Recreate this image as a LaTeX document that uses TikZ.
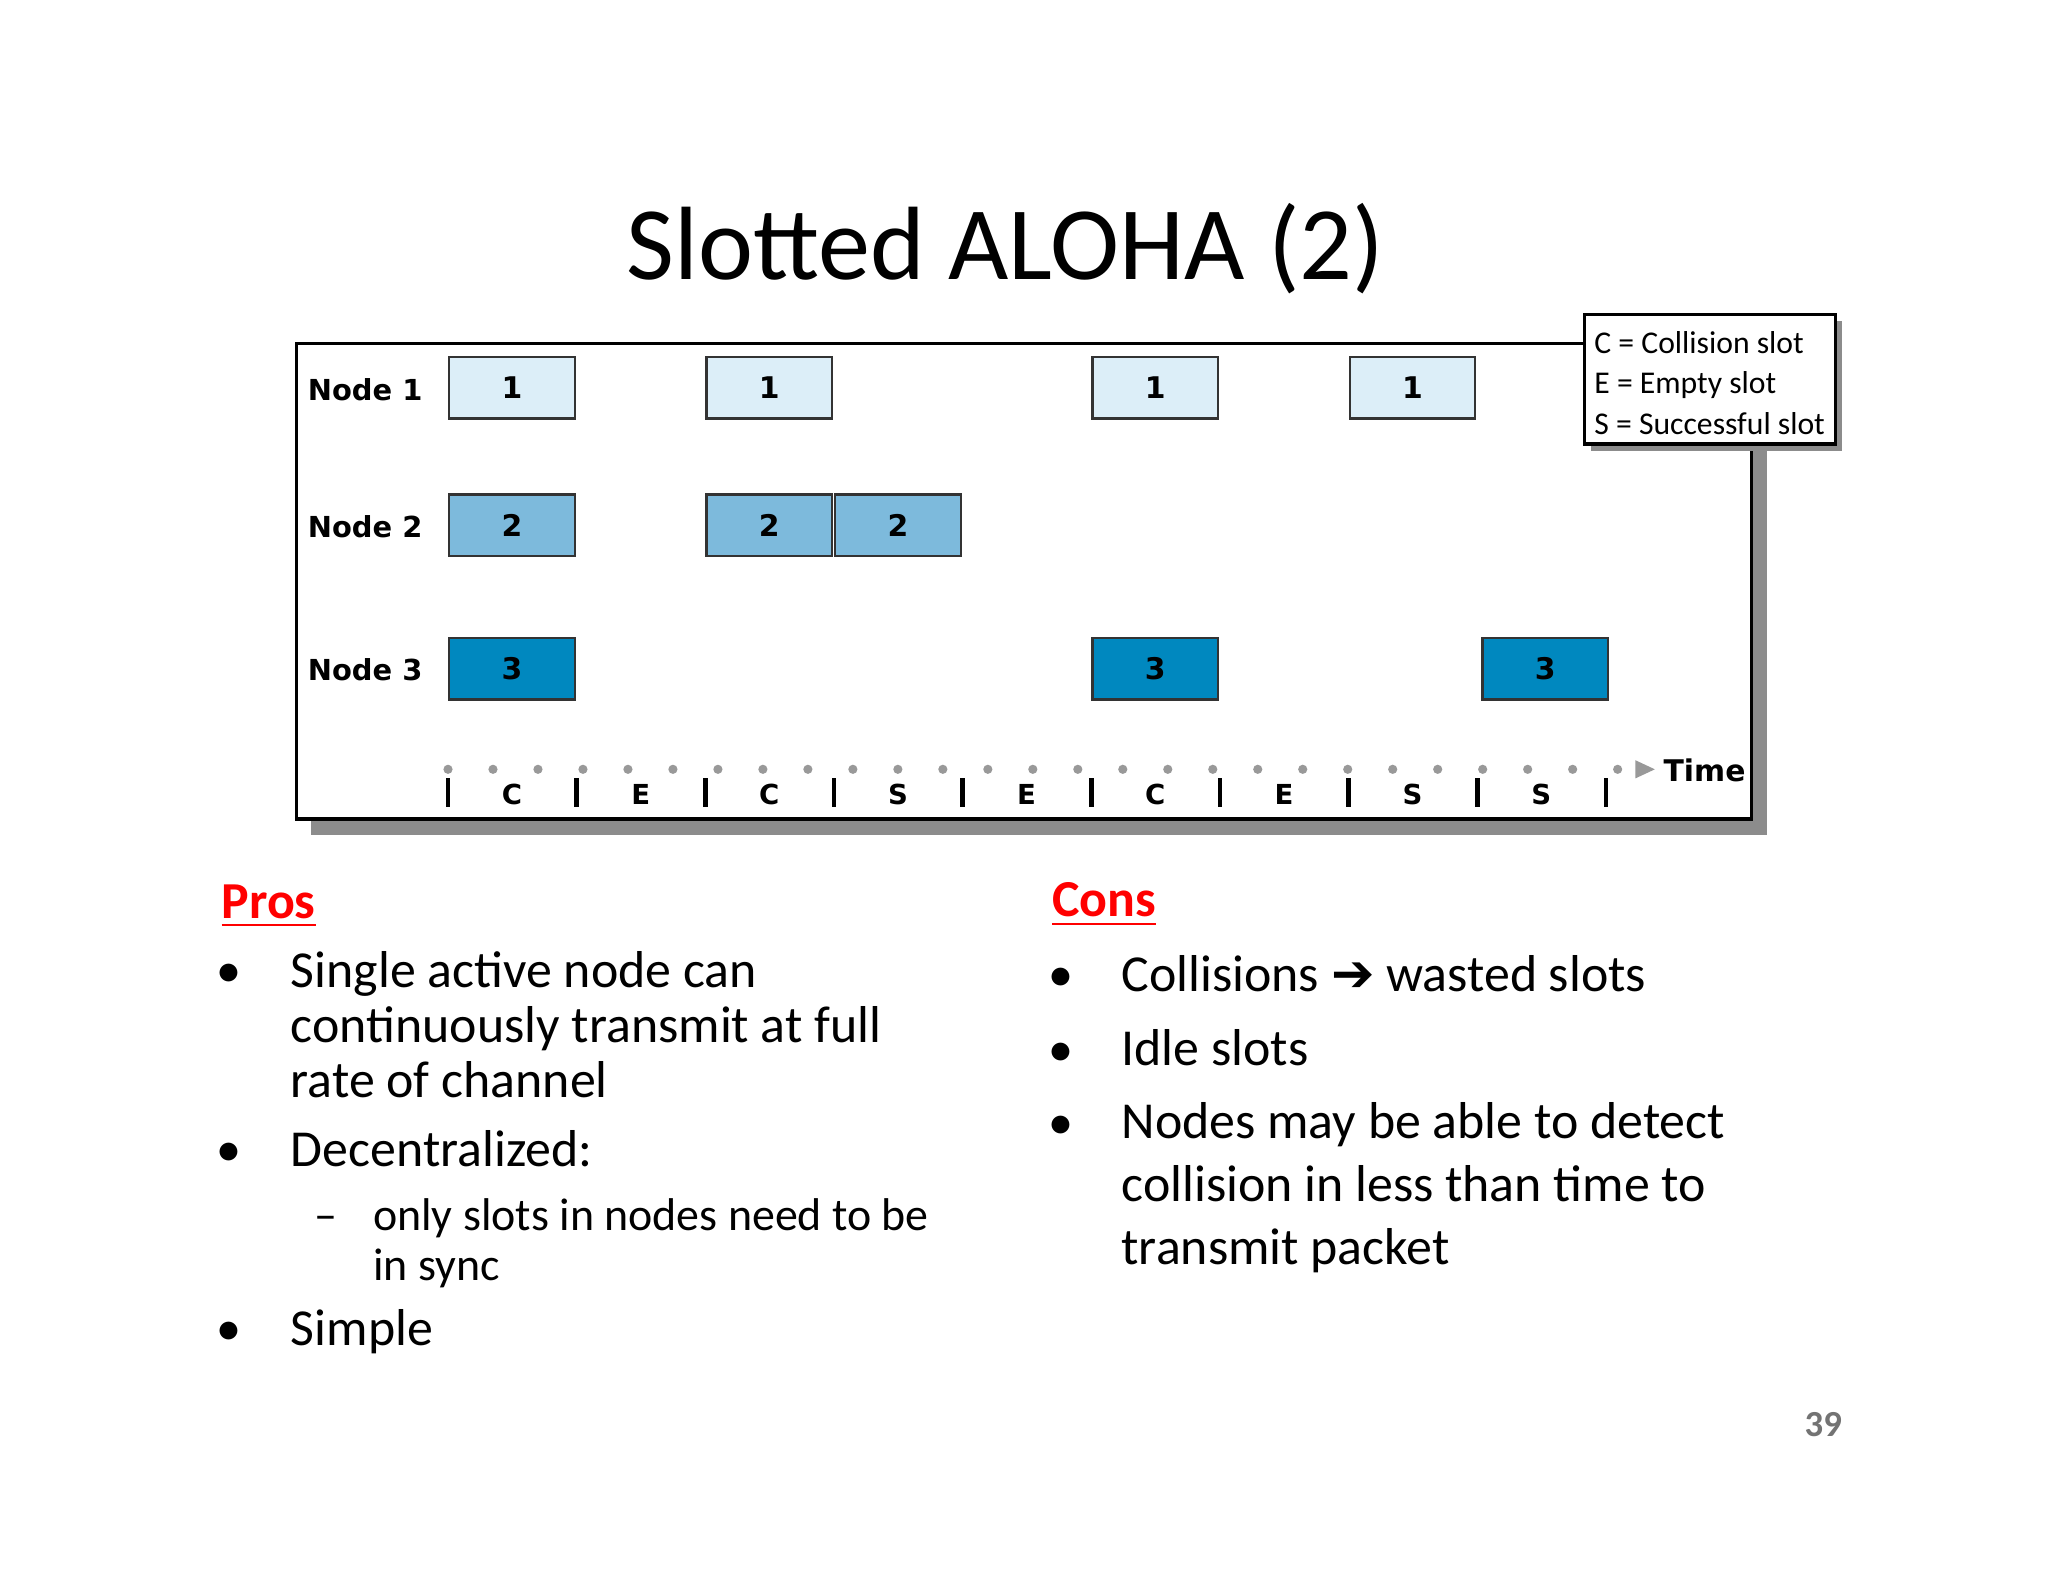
\documentclass[tikz,border=0pt]{standalone}
\usepackage{fontspec}
\setmainfont{Carlito}
\newfontfamily\lblfont{DejaVu Sans}
\begin{document}
\begin{tikzpicture}[x=0.1mm,y=-0.1mm,
  pk/.style={draw=black!80,line width=0.5pt,minimum width=9.6mm,minimum height=4.7mm,inner sep=0pt,font=\lblfont\bfseries\fontsize{6.5}{7}\selectfont},
  pa/.style={pk,fill=c1},pb/.style={pk,fill=c2},pc/.style={pk,fill=c3},
  nlab/.style={anchor=west,inner sep=0pt,font=\lblfont\bfseries\fontsize{6.3}{7}\selectfont},
  body/.style={anchor=base west,inner sep=0pt,font=\fontsize{11.3}{13}\selectfont},
  sub/.style={anchor=base west,inner sep=0pt,font=\fontsize{10}{12}\selectfont},
  bul/.style={anchor=base,inner sep=0pt,font=\fontsize{10}{12}\selectfont}]
\definecolor{c1}{HTML}{DCEEF8}
\definecolor{c2}{HTML}{7DBADC}
\definecolor{c3}{HTML}{0088BF}
\useasboundingbox (0,0) rectangle (1568,1211);
\fill[white] (0,0) rectangle (1568,1211);
\node[font=\fontsize{22.7}{26}\selectfont] (title) at (770,190) {Slotted ALOHA (2)};
% frame
\fill[black!45] (238,275) rectangle (1353,639);
\draw[fill=white,line width=0.7pt] (227,263) rectangle (1341,627);
\node[nlab] (n1) at (235,298) {Node 1};
\node[nlab] (n2) at (235,403) {Node 2};
\node[nlab] (n3) at (235,513) {Node 3};
\foreach \s/\r/\st/\t/\nm in {0/297/pa/1/a0,2/297/pa/1/a2,5/297/pa/1/a5,7/297/pa/1/a7,
  0/402/pb/2/b0,2/402/pb/2/b2,3/402/pb/2/b3,
  0/512/pc/3/c0,5/512/pc/3/c5,8/512/pc/3/c8}
  \node[\st] (\nm) at ({392+98.5*\s+(\s==8?3:0)},\r) {\t};
% time axis
\coordinate (t0) at (343,589);
\coordinate (t1) at (1248,589);
\draw[black!40,line width=2pt,dash pattern=on 0pt off 9.8pt,line cap=round] (t0) -- (t1);
\fill[black!40] (1252,582) -- (1267,589) -- (1252,596) -- cycle;
\node[anchor=west,inner sep=0pt,font=\lblfont\bfseries\fontsize{6.5}{7}\selectfont] (time) at (1273,590) {Time};
\foreach \i in {0,...,9} \draw[line width=1pt] ({343+98.5*\i},596) -- ({343+98.5*\i},618);
\foreach \l [count=\i from 0] in {C,E,C,S,E,C,E,S,S}
  \node[font=\lblfont\bfseries\fontsize{6}{7}\selectfont] (sl\i) at ({392+98.5*\i},608) {\l};
% legend
\fill[black!45] (1218,246) rectangle (1410,345);
\draw[fill=white,line width=0.7pt] (1213,241) rectangle (1405,340);
\node[anchor=north west,align=left,inner sep=0pt,font=\fontsize{6.9}{8.8}\selectfont] (leg) at (1220,253) {C = Collision slot\\E = Empty slot\\S = Successful slot};
% pros
\node[anchor=base west,inner sep=0pt,text=red,font=\bfseries\fontsize{11.3}{13}\selectfont] (pros) at (169,703) {\underline{Pros}};
\node[bul] at (175,754) {$\bullet$};
\node[body] (p1) at (222,756) {Single active node can};
\node[body] at (222,798) {continuously transmit at full};
\node[body] at (222,840) {rate of channel};
\node[bul] at (175,891) {$\bullet$};
\node[body] (p2) at (222,893) {Decentralized:};
\node[sub] at (240,942) {--};
\node[sub] (p3) at (285,942) {only slots in nodes need to be};
\node[sub] at (285,980) {in sync};
\node[bul] at (175,1028) {$\bullet$};
\node[body] (p4) at (222,1030) {Simple};
% cons
\node[anchor=base west,inner sep=0pt,text=red,font=\bfseries\fontsize{11.3}{13}\selectfont] (cons) at (805,702) {\underline{Cons}};
\node[bul] at (812,757) {$\bullet$};
\node[body] (k1) at (858,759) {Collisions {\lblfont\bfseries ➔} wasted slots};
\node[bul] at (812,814) {$\bullet$};
\node[body] (k2) at (858,816) {Idle slots};
\node[bul] at (812,870) {$\bullet$};
\node[body] (k3) at (858,872) {Nodes may be able to detect};
\node[body] at (858,920) {collision in less than time to};
\node[body] at (858,968) {transmit packet};
\node[text=black!55,font=\bfseries\fontsize{8}{9}\selectfont] (pg) at (1396,1091) {39};
\end{tikzpicture}
\end{document}
